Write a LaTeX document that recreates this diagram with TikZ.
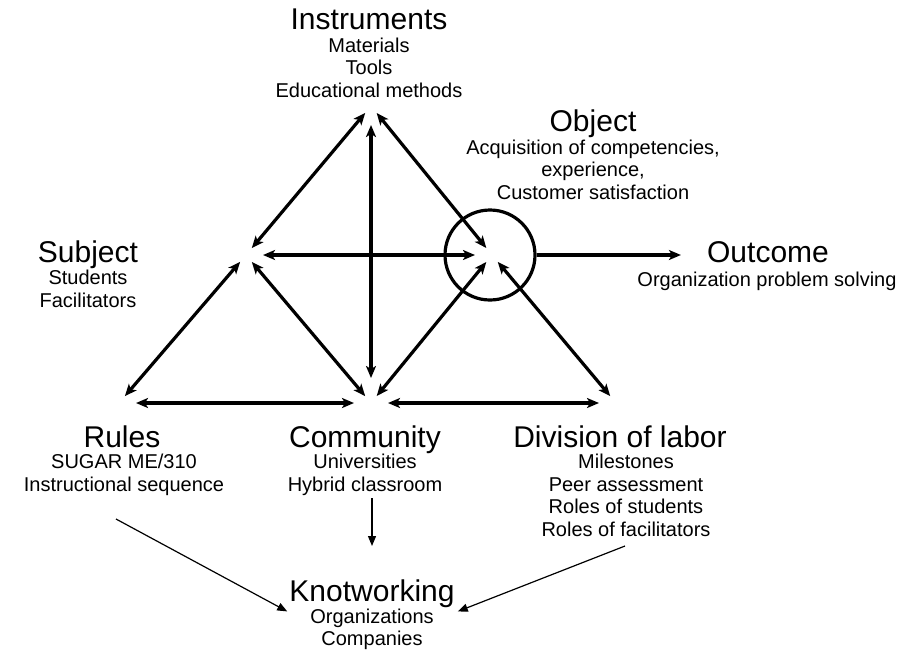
\documentclass[tikz,border=0pt]{standalone}
\usepackage{fontspec}
\setmainfont{Liberation Sans}
\usetikzlibrary{calc}
\usetikzlibrary{arrows.meta}

\begin{document}
\begin{tikzpicture}[x=1pt, y=-1pt,
        ttl/.style={anchor=base, inner sep=0pt, font=\fontsize{30}{34}\selectfont},
        sub/.style={anchor=base, inner sep=0pt, align=center, font=\fontsize{20}{22.5}\selectfont},
        link/.style={line width=3.2pt, {Stealth[length=12pt,width=10pt,inset=3pt]}-{Stealth[length=12pt,width=10pt,inset=3pt]}, shorten <=9pt, shorten >=9pt},
        flat/.style={shorten <=17pt, shorten >=17pt},
        feed/.style={line width=1.2pt, -{Triangle[length=10pt,width=8pt]}}]
    	\useasboundingbox (0,0) rectangle (901,649);
    	% corners of the triangle
    	\coordinate (instr) at (371,106);
    	\coordinate (subj) at (246,255);
    	\coordinate (obj) at (492,255);
    	\coordinate (rules) at (119,403);
    	\coordinate (comm) at (371,403);
    	\coordinate (div) at (616,403);
    	\node [draw, circle, line width=3.2pt, minimum size=90pt, inner sep=0pt] (ring) at (490,255) {};
    	% labels (sub texts sit on the baseline of their last line)
    	\node [ttl] (instrT) at (369,29) {Instruments};
    	\node [sub] (instrS) at (369,97) {Materials\\Tools\\Educational methods};
    	\node [ttl] (objT) at (593,131) {Object};
    	\node [sub] (objS) at (593,199) {Acquisition of competencies,\\experience,\\Customer satisfaction};
    	\node [ttl] (subjT) at (88,262) {Subject};
    	\node [sub] (subjS) at (88,307) {Students\\Facilitators};
    	\node [ttl] (outT) at (768,262) {Outcome};
    	\node [sub] (outS) at (767,286) {Organization problem solving};
    	\node [ttl] (rulesT) at (122,447) {Rules};
    	\node [sub] (rulesS) at (124,491) {SUGAR ME/310\\Instructional sequence};
    	\node [ttl] (commT) at (365,447) {Community};
    	\node [sub] (commS) at (365,491) {Universities\\Hybrid classroom};
    	\node [ttl] (divT) at (620,447) {Division of labor};
    	\node [sub] (divS) at (626,536) {Milestones\\Peer assessment\\Roles of students\\Roles of facilitators};
    	\node [ttl] (knotT) at (372,601) {Knotworking};
    	\node [sub, font=\fontsize{20}{21.5}\selectfont] (knotS) at (372,645) {Organizations\\Companies};
    	% arrows of the triangle
    	\draw [link] (instr) -- (subj);
    	\draw [link] (instr) -- (obj);
    	\draw [link, shorten <=19pt, shorten >=25pt] (instr) -- (comm);
    	\draw [link, flat] (subj) -- (obj);
    	\draw [link] (subj) -- (rules);
    	\draw [link] (subj) -- (comm);
    	\draw [link] (obj) -- (comm);
    	\draw [link] (obj) -- (div);
    	\draw [link, flat] (rules) -- (comm);
    	\draw [link, flat] (comm) -- (div);
    	\draw [line width=3.2pt, -{Stealth[length=12pt,width=10pt,inset=3pt]}, shorten >=26pt] (ring.east) -- (ring.east -| outT.west);
    	% towards knotworking
    	\coordinate (rulesfoot) at (116,519);
    	\coordinate (commfoot) at (372,498);
    	\coordinate (divfoot) at (625,546);
    	\draw [feed] (rulesfoot) -- ($(knotT.south west)+(-2,4)$);
    	\draw [feed] (commfoot) -- (commfoot |- 0,546);
    	\draw [feed] (divfoot) -- ($(knotT.south east)+(3,4)$);
\end{tikzpicture}
\end{document}
